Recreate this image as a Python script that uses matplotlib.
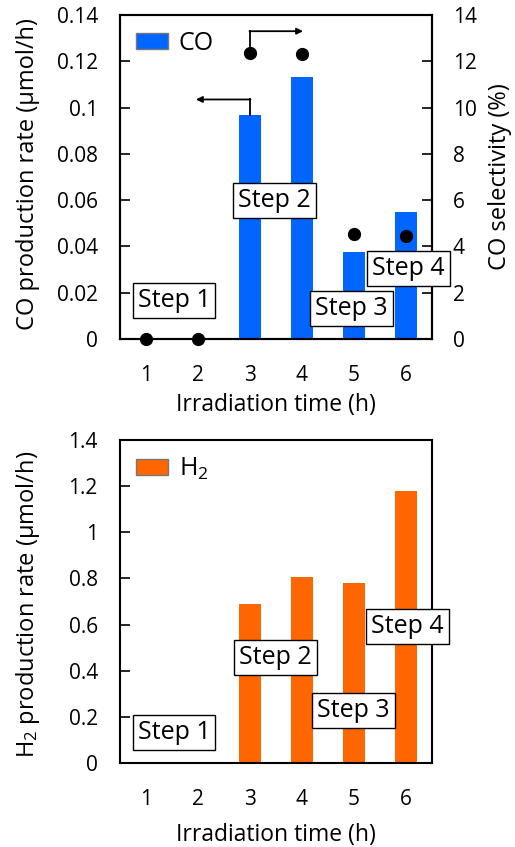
import matplotlib
matplotlib.use("Agg")
import matplotlib.pyplot as plt
import numpy as np

plt.rcParams['font.family'] = ['Open Sans', 'DejaVu Sans']
plt.rcParams['mathtext.fontset'] = 'custom'
plt.rcParams['mathtext.rm'] = 'Open Sans'
plt.rcParams['mathtext.it'] = 'Open Sans'

# ---- data ----
hours = [1, 2, 3, 4, 5, 6]
co_rate = [0.0, 0.0, 0.097, 0.113, 0.0375, 0.055]
co_selectivity = [0.0, 0.0, 12.35, 12.3, 4.55, 4.45]
h2_rate = [0.0, 0.0, 0.688, 0.808, 0.782, 1.18]
co_yticks = [0, 0.02, 0.04, 0.06, 0.08, 0.1, 0.12, 0.14]
co_yticklabels = ['0', '0.02', '0.04', '0.06', '0.08', '0.1', '0.12', '0.14']
sel_yticks = [0, 2, 4, 6, 8, 10, 12, 14]
h2_yticks = [0, 0.2, 0.4, 0.6, 0.8, 1.0, 1.2, 1.4]
h2_yticklabels = ['0', '0.2', '0.4', '0.6', '0.8', '1', '1.2', '1.4']
step_labels = ['Step 1', 'Step 2', 'Step 3', 'Step 4']
co_step_pos = [(1.54, 0.0165), (3.47, 0.060), (4.95, 0.013), (6.05, 0.0305)]
h2_step_pos = [(1.54, 0.131), (3.49, 0.458), (4.99, 0.226), (6.03, 0.592)]

blue = '#0066FF'
orange = '#FF6600'
TICK = 15
LAB = 17
XLAB = 16.5
STEP = 18
LEG = 18

W, H = 515, 847
fig = plt.figure(figsize=(W / 100, H / 100), dpi=100)

def px_axes(left, top, right, bottom):
    return fig.add_axes([left / W, 1 - bottom / H, (right - left) / W, (bottom - top) / H])

def style(ax):
    for s in ax.spines.values():
        s.set_linewidth(1.5)
    ax.tick_params(direction='in', length=7, width=1.2, labelsize=TICK)

box = dict(boxstyle='square,pad=0.2', fc='white', ec='black', lw=1.0)

def add_legend(a):
    lg = a.legend(loc='upper left', bbox_to_anchor=(0.0, 1.0), frameon=False,
                  fontsize=LEG, handlelength=1.25, handleheight=0.6, handletextpad=0.45,
                  borderaxespad=0.25, borderpad=0.4)
    for p in lg.get_patches():
        p.set_edgecolor('#777777')
        p.set_linewidth(1.0)
    return lg

# ---------------- top panel ----------------
ax = px_axes(120, 15, 432, 339)
ax.bar(hours, co_rate, width=0.44, color=blue, edgecolor='none', label='CO', zorder=2)
ax.set_xlim(0.5, 6.5)
ax.set_ylim(0, 0.14)
ax.set_yticks(co_yticks)
ax.set_yticklabels(co_yticklabels)
ax.set_xticks(hours)
style(ax)
ax.tick_params(axis='x', length=0, pad=19)
ax.tick_params(axis='y', pad=16)
ax.set_xlabel('Irradiation time (h)', fontsize=XLAB, va='center')
ax.xaxis.set_label_coords(0.5, -0.204)
ax.set_ylabel('CO production rate (μmol/h)', fontsize=LAB, va='center')
ax.yaxis.set_label_coords(-0.295, 0.51)
add_legend(ax)

ax2 = ax.twinx()
ax2.set_ylim(0, 14)
ax2.set_yticks(sel_yticks)
style(ax2)
ax2.tick_params(axis='y', pad=15)
ax2.plot(hours, co_selectivity, 'o', color='black', markersize=8.5, clip_on=False, zorder=5)
ax2.set_ylabel('CO selectivity (%)', fontsize=LAB, va='center', rotation=90)
ax2.yaxis.set_label_coords(1.219, 0.5)

# arrows (derived from data points)
x3 = hours[2]
yb = co_rate[2]
ax2.plot([x3, x3], [yb, yb + 0.0065], color='black', lw=1.3, transform=ax.transData, zorder=6)
ax2.annotate('', xy=(hours[1] - 0.04, yb + 0.0065), xytext=(x3 + 0.01, yb + 0.0065),
             xycoords=ax.transData, textcoords=ax.transData,
             arrowprops=dict(arrowstyle='-|>', color='black', lw=1.3, mutation_scale=9,
                             shrinkA=0, shrinkB=0))
ys = co_selectivity[2]
ax2.plot([x3, x3], [ys + 0.3, ys + 0.95], color='black', lw=1.3, zorder=6)
ax2.annotate('', xy=(hours[3] + 0.02, ys + 0.95), xytext=(x3 - 0.01, ys + 0.95),
             arrowprops=dict(arrowstyle='-|>', color='black', lw=1.3, mutation_scale=9,
                             shrinkA=0, shrinkB=0))

for lab, (xx, yy) in zip(step_labels, co_step_pos):
    ax2.text(xx, yy, lab, transform=ax.transData, ha='center', va='center',
             fontsize=STEP, bbox=box, zorder=10, clip_on=False)

# ---------------- bottom panel ----------------
bx = px_axes(120, 440, 432, 763)
bx.bar(hours, h2_rate, width=0.44, color=orange, edgecolor='none', label=r'H$_\mathregular{2}$', zorder=2)
bx.set_xlim(0.5, 6.5)
bx.set_ylim(0, 1.4)
bx.set_yticks(h2_yticks)
bx.set_yticklabels(h2_yticklabels)
bx.set_xticks(hours)
style(bx)
bx.tick_params(axis='x', length=0, pad=19)
bx.tick_params(axis='y', pad=16)
bx.set_xlabel('Irradiation time (h)', fontsize=XLAB, va='center')
bx.xaxis.set_label_coords(0.5, -0.224)
bx.set_ylabel(r'H$_\mathregular{2}$ production rate (μmol/h)', fontsize=LAB, va='center')
bx.yaxis.set_label_coords(-0.295, 0.49)
add_legend(bx)

for lab, (xx, yy) in zip(step_labels, h2_step_pos):
    bx.text(xx, yy, lab, ha='center', va='center', fontsize=STEP, bbox=box,
            zorder=10, clip_on=False)

fig.savefig('out.png', dpi=100)
